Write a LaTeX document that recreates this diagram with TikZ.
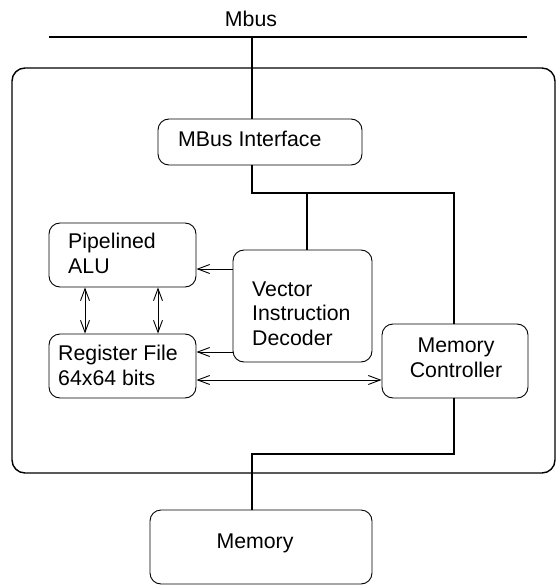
\documentclass[tikz,border=0pt]{standalone}
\usepackage{fontspec}
\setmainfont{Liberation Sans}
\usetikzlibrary{arrows.meta}
\begin{document}
\begin{tikzpicture}[x=1pt,y=-1pt,
  box/.style={draw, rounded corners=11pt, line width=0.9pt, inner sep=0pt},
  chipbox/.style={draw, rounded corners=13pt, line width=1.4pt, inner sep=0pt},
  txt/.style={font=\fontsize{21.3}{24.5}\selectfont, inner sep=0pt},
  wire/.style={line width=1.4pt},
  tipb/.tip={Straight Barb[length=12pt,width=9pt]},
  arr/.style={line width=0.9pt, -tipb},
  darr/.style={line width=0.9pt, tipb-tipb}
]
\useasboundingbox (0,0) rectangle (557,585);

% outer chip
\node[chipbox, minimum width=543pt, minimum height=405pt] (chip) at (283.5,270.5) {};

% bus
\node[txt, anchor=base] (mbuslbl) at (251,27) {Mbus};
\coordinate (busL) at (49,37);
\coordinate (busR) at (527,37);
\coordinate (tap) at (252,37);
\draw[wire] (busL) -- (busR);

% boxes
\node[box, minimum width=204pt, minimum height=46pt] (mbi) at (260,142) {};
\node[box, minimum width=139pt, minimum height=112pt] (vid) at (302.5,306) {};
\node[box, minimum width=146pt, minimum height=74pt] (mc) at (455,361) {};
\node[box, minimum width=147pt, minimum height=64pt] (alu) at (122.5,255) {};
\node[box, minimum width=147pt, minimum height=64pt] (rf) at (122.5,366) {};
\node[box, minimum width=222pt, minimum height=74pt] (mem) at (261,547) {};

% texts (base = baseline of the last line)
\node[txt, anchor=base west] (mbitxt) at (178,147) {MBus Interface};
\node[txt, anchor=base west, align=left] (vidtxt) at (252,345) {Vector\\Instruction\\Decoder};
\node[txt, anchor=base, align=center] (mctxt) at (456,377) {Memory\\Controller};
\node[txt, anchor=base west, align=left] (alutxt) at (68,273) {Pipelined\\ALU};
\node[txt, anchor=base west, align=left] (rftxt) at (58,385) {Register File\\64x64 bits};
\node[txt, anchor=base] (memtxt) at (255,548) {Memory};

% wires
\draw[wire] (tap) -- (tap |- mbi.north);
\coordinate (j1) at (252,193);
\coordinate (j2) at (307,193);
\coordinate (j3) at (454,193);
\draw[wire] (mbi.south -| j1) -- (j1) -- (j3) -- (j3 |- mc.north);
\draw[wire] (j2) -- (j2 |- vid.north);
\coordinate (j4) at (454,454);
\coordinate (j5) at (252,454);
\draw[wire] (mc.south -| j4) -- (j4) -- (j5) -- (j5 |- mem.north);

% arrows
\coordinate (a1) at (233,269);
\coordinate (a2) at (233,352);
\coordinate (a3) at (233,380);
\coordinate (v1) at (85,300);
\coordinate (v2) at (158,300);
\draw[arr] (vid.west |- a1) -- (alu.east |- a1);
\draw[arr] (vid.west |- a2) -- (rf.east |- a2);
\draw[darr] (rf.east |- a3) -- (mc.west |- a3);
\draw[darr] (alu.south -| v1) -- (rf.north -| v1);
\draw[darr] (alu.south -| v2) -- (rf.north -| v2);
\end{tikzpicture}
\end{document}
